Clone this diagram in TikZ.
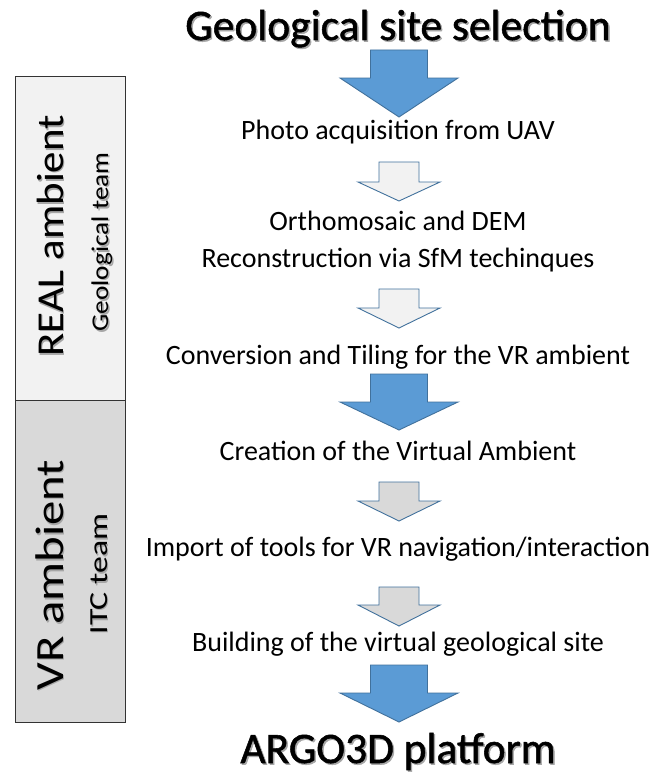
\documentclass[tikz,border=0pt]{standalone}
\usepackage{fontspec}
\setmainfont{Carlito}
\newfontfamily\boldishfont[FakeBold=1.2]{Carlito}
\definecolor{arrowblue}{HTML}{5B9BD5}
\definecolor{arrowedge}{HTML}{41719C}
\definecolor{lightfill}{HTML}{F2F2F2}
\definecolor{grayfill}{HTML}{D9D9D9}
\definecolor{shadowgray}{HTML}{A6A6A6}
\newcommand\bigarrow[4]{\draw[#1] (399-28.5,#2) -- (399+28.5,#2) -- (399+28.5,#3) -- (399+59,#3) -- (399,#4) -- (399-59,#3) -- (399-28.5,#3) -- cycle;}
\newcommand\smallarrow[4]{\draw[#1] (399-20,#2) -- (399+20,#2) -- (399+20,#3) -- (399+41,#3) -- (399,#4) -- (399-41,#3) -- (399-20,#3) -- cycle;}
\begin{document}
\begin{tikzpicture}[x=1pt,y=-1pt,
  steptext/.style={font=\fontsize{28}{30}\selectfont, inner sep=0pt, anchor=base},
  titletext/.style={font=\boldishfont\fontsize{43.5}{46}\selectfont, inner sep=0pt, anchor=base},
  shadowcopy/.style={text=shadowgray},
  bluearrow/.style={fill=arrowblue, draw=arrowedge, line width=0.9pt},
  lightarrow/.style={fill=lightfill, draw=arrowedge, line width=0.9pt},
  grayarrow/.style={fill=grayfill, draw=arrowedge, line width=0.9pt},
  panel/.style={draw=black!80, line width=0.9pt},
  sidetext/.style={rotate=90, inner sep=0pt, anchor=base}
]
\useasboundingbox (0,0) rectangle (659,776);
\fill[white] (0,0) rectangle (659,776);

% side panels
\draw[panel, fill=lightfill] (15,76) rectangle (125,400);
\draw[panel, fill=grayfill] (15,400) rectangle (125,722);
\node[sidetext, shadowcopy, font=\fontsize{38}{40}\selectfont] at (64.5,237.5) {\scalebox{1.13}[1]{REAL ambient}};
\node[sidetext, font=\fontsize{38}{40}\selectfont] (real) at (63,236) {\scalebox{1.13}[1]{REAL ambient}};
\node[sidetext, shadowcopy, font=\fontsize{24}{26}\selectfont] at (109.5,243.5) {\scalebox{1.14}[1]{Geological team}};
\node[sidetext, font=\fontsize{24}{26}\selectfont] (geoteam) at (108,242) {\scalebox{1.14}[1]{Geological team}};
\node[sidetext, shadowcopy, font=\fontsize{40}{42}\selectfont] at (64.5,576.5) {\scalebox{1.22}[1]{VR ambient}};
\node[sidetext, font=\fontsize{40}{42}\selectfont] (vr) at (63,575) {\scalebox{1.22}[1]{VR ambient}};
\node[sidetext, shadowcopy, font=\fontsize{26}{28}\selectfont] at (108.5,575.5) {\scalebox{1.3}[1]{ITC team}};
\node[sidetext, font=\fontsize{26}{28}\selectfont] (itcteam) at (107,574) {\scalebox{1.3}[1]{ITC team}};

% title and final text
\node[titletext, shadowcopy] at (399.5,41.5) {Geological site selection};
\node[titletext] (title) at (398,40) {Geological site selection};
\node[titletext, shadowcopy] at (399.5,764.5) {ARGO3D platform};
\node[titletext] (argo) at (398,763) {ARGO3D platform};

% steps
\node[steptext] (s1) at (398,139) {Photo acquisition from UAV};
\node[steptext] (s2a) at (398,230) {Orthomosaic and DEM};
\node[steptext] (s2b) at (398,267) {Reconstruction via SfM techinques};
\node[steptext] (s3) at (398,364) {Conversion and Tiling for the VR ambient};
\node[steptext] (s4) at (398,460) {Creation of the Virtual Ambient};
\node[steptext] (s5) at (398,556) {Import of tools for VR navigation/interaction};
\node[steptext] (s6) at (398,651) {Building of the virtual geological site};

% block arrows
\bigarrow{bluearrow}{50}{78}{117}
\smallarrow{lightarrow}{162}{182}{201}
\smallarrow{lightarrow}{289}{308}{328}
\bigarrow{bluearrow}{374}{402}{430}
\smallarrow{grayarrow}{482}{501}{521}
\smallarrow{grayarrow}{587}{605}{626}
\bigarrow{bluearrow}{665}{693}{722}
\end{tikzpicture}
\end{document}
